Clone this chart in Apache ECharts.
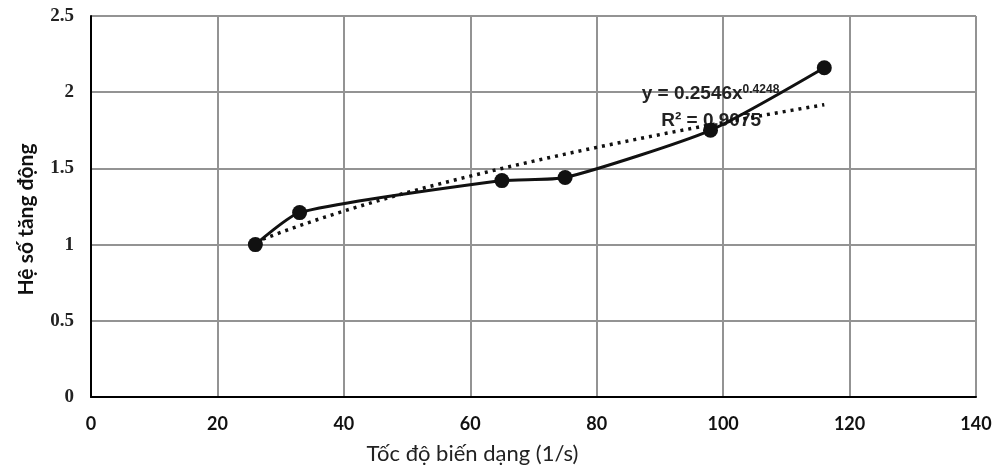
<!DOCTYPE html>
<html>
<head>
<meta charset="utf-8">
<script src="https://cdn.jsdelivr.net/npm/echarts@6/dist/echarts.min.js"></script>
<style>
  html, body { margin: 0; padding: 0; background: #fff; }
  #chart { width: 999px; height: 470px; }
</style>
</head>
<body>
<div id="chart"></div>
<script>
// Measured strain rates (1/s) and dynamic increase factors
const strainRate = [26, 33, 65, 75, 98, 116];
const dif = [1.0, 1.21, 1.42, 1.44, 1.75, 2.16];

// Power trendline y = a * x^b, as stated on the chart
const fitA = 0.2546;
const fitB = 0.4248;
const fitR2 = '0.9075';

const xTicks = [0, 20, 40, 60, 80, 100, 120, 140];
const yTicks = [0, 0.5, 1, 1.5, 2, 2.5];

const trendX = [];
for (let x = strainRate[0]; x <= strainRate[strainRate.length - 1]; x += 1) trendX.push(x);
const trendData = trendX.map(x => [x, fitA * Math.pow(x, fitB)]);

const chart = echarts.init(document.getElementById('chart'));

const option = {
  animation: false,
  backgroundColor: '#fff',
  grid: { left: 91, right: 23, top: 16, bottom: 72 },
  xAxis: {
    type: 'value',
    min: xTicks[0], max: xTicks[xTicks.length - 1], interval: 20,
    name: 'Tốc độ biến dạng (1/s)',
    nameLocation: 'middle',
    nameGap: 46,
    nameTextStyle: { fontFamily: 'Lato', fontSize: 22, color: '#222', padding: [0, 122, 0, 0] },
    axisLine: { show: true, onZero: false, lineStyle: { color: '#000', width: 2 } },
    axisTick: { show: false },
    axisLabel: { fontFamily: 'Lato', fontWeight: 'bold', fontSize: 18, color: '#111', margin: 18 },
    splitLine: { show: true, lineStyle: { color: '#939393', width: 2 } }
  },
  yAxis: {
    type: 'value',
    min: yTicks[0], max: yTicks[yTicks.length - 1], interval: 0.5,
    name: 'Hệ số tăng động',
    nameLocation: 'middle',
    nameGap: 54,
    nameTextStyle: { fontFamily: 'Lato', fontWeight: 'bold', fontSize: 21, color: '#111', padding: [0, 26, 0, 0] },
    axisLine: { show: true, lineStyle: { color: '#000', width: 2 } },
    axisTick: { show: false },
    axisLabel: { fontFamily: 'Liberation Serif', fontWeight: 'bold', fontSize: 19, color: '#222', margin: 17 },
    splitLine: { show: true, lineStyle: { color: '#939393', width: 2 } }
  },
  series: [
    {
      name: 'trend',
      type: 'line',
      data: trendData,
      showSymbol: false,
      smooth: false,
      lineStyle: { color: '#111', width: 3.5, type: [3, 5] },
      z: 2
    },
    {
      name: 'dif',
      type: 'line',
      data: strainRate.map((x, i) => [x, dif[i]]),
      smooth: 0.2,
      symbol: 'circle',
      symbolSize: 15,
      itemStyle: { color: '#111' },
      lineStyle: { color: '#111', width: 3 },
      z: 3
    }
  ]
};

chart.setOption(option);

// Trendline equation and R², anchored in data coordinates
const eqPos = chart.convertToPixel({ gridIndex: 0 }, [98.0, 1.99]);
const r2Pos = chart.convertToPixel({ gridIndex: 0 }, [98.1, 1.81]);
chart.setOption({
  graphic: [
    {
      type: 'text',
      x: eqPos[0], y: eqPos[1],
      z: 1,
      style: {
        text: '{m|y = 0.2546x}{s|' + fitB.toFixed(4) + '}',
        align: 'center', verticalAlign: 'middle',
        rich: {
          m: { fontFamily: 'Liberation Sans', fontWeight: 'bold', fontSize: 19, fill: '#222', lineHeight: 20, verticalAlign: 'bottom' },
          s: { fontFamily: 'Liberation Sans', fontWeight: 'bold', fontSize: 12, fill: '#222', lineHeight: 20, verticalAlign: 'top' }
        }
      }
    },
    {
      type: 'text',
      x: r2Pos[0], y: r2Pos[1],
      z: 1,
      style: {
        text: 'R² = ' + fitR2,
        align: 'center', verticalAlign: 'middle',
        fontFamily: 'Liberation Sans', fontWeight: 'bold', fontSize: 19, fill: '#222'
      }
    }
  ]
});
</script>
</body>
</html>
